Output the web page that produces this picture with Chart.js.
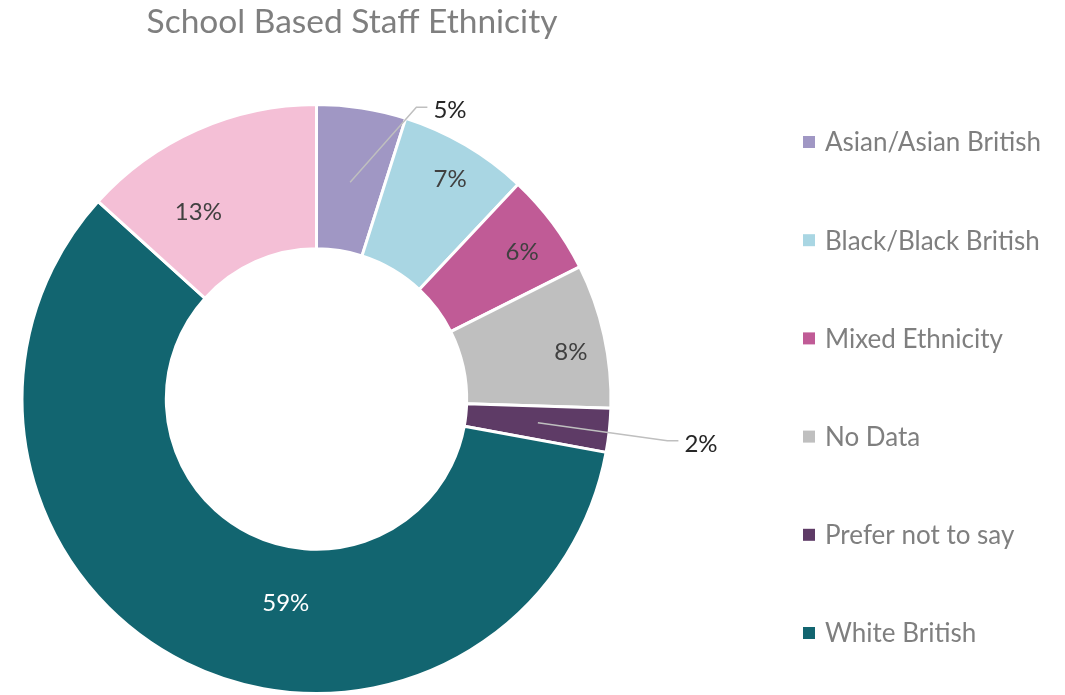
<!DOCTYPE html>
<html>
<head>
<meta charset="utf-8">
<title>School Based Staff Ethnicity</title>
<script src="https://cdn.jsdelivr.net/npm/chart.js@4.4.1/dist/chart.umd.min.js"></script>
<style>
  html, body { margin: 0; padding: 0; background: #ffffff; }
  #wrap { width: 1065px; height: 695px; position: relative; }
</style>
</head>
<body>
<div id="wrap"><canvas id="chart" width="1065" height="695"></canvas></div>
<script>
// Staff ethnicity breakdown (percent of school based staff)
const categories = [
  'Asian/Asian British',
  'Black/Black British',
  'Mixed Ethnicity',
  'No Data',
  'Prefer not to say',
  'White British',
  'White Other'
];
const shares = [4.9, 7.1, 5.6, 7.9, 2.4, 58.8, 13.3];
const sliceColours = ['#A097C4', '#A9D6E3', '#C05B96', '#BFBFBF', '#5E3B66', '#126570', '#F4BFD6'];
// Entries listed in the legend (the last category falls below the visible legend area)
const legendCount = 6;

const FONT = 'Lato, "Open Sans", sans-serif';

// Per-slice label placement: radius as a fraction of the outer radius,
// angle shift in degrees from the slice middle, optional leader elbow (polar)
const labelPlacement = [
  { leader: { r: 1.047, deg: 18.9 }, anchorR: 0.745 },
  { r: 0.873, shift: 0.9 },
  { r: 0.858, shift: 1.2 },
  { r: 0.878, shift: 2.0 },
  { leader: { r: 1.2, deg: 96.8 }, anchorR: 0.756 },
  { r: 0.70, shift: -17.7, colour: '#ffffff' },
  { r: 0.75, shift: -8.4 }
];

const titlePlugin = {
  id: 'plainTitle',
  afterDraw(chart) {
    const ctx = chart.ctx;
    ctx.save();
    ctx.font = '400 33.5px ' + FONT;
    ctx.fillStyle = '#7F7F7F';
    ctx.textAlign = 'center';
    ctx.textBaseline = 'alphabetic';
    ctx.fillText('School Based Staff Ethnicity', 352, 33);
    ctx.restore();
  }
};

const legendPlugin = {
  id: 'sideLegend',
  afterDraw(chart) {
    const ctx = chart.ctx;
    const ds = chart.data.datasets[0];
    ctx.save();
    ctx.font = '400 26px ' + FONT;
    ctx.textBaseline = 'middle';
    ctx.textAlign = 'left';
    for (let i = 0; i < legendCount; i++) {
      const y = 142 + i * 98.2;
      ctx.fillStyle = ds.backgroundColor[i];
      ctx.fillRect(803, y - 6, 12, 12);
      ctx.fillStyle = '#7F7F7F';
      ctx.fillText(chart.data.labels[i], 825, y + 1);
    }
    ctx.restore();
  }
};

const valueLabelPlugin = {
  id: 'valueLabels',
  afterDatasetsDraw(chart) {
    const ctx = chart.ctx;
    const meta = chart.getDatasetMeta(0);
    const values = chart.data.datasets[0].data;
    ctx.save();
    ctx.font = '400 24px ' + FONT;
    ctx.textBaseline = 'middle';
    meta.data.forEach((arc, i) => {
      const p = arc.getProps(['x', 'y', 'startAngle', 'endAngle', 'outerRadius'], true);
      const place = labelPlacement[i];
      const mid = (p.startAngle + p.endAngle) / 2;
      const text = Math.round(values[i]) + '%';
      if (place.leader) {
        const ax = p.x + Math.cos(mid) * p.outerRadius * place.anchorR;
        const ay = p.y + Math.sin(mid) * p.outerRadius * place.anchorR;
        const ea = (place.leader.deg - 90) * Math.PI / 180;
        const ex = p.x + Math.cos(ea) * p.outerRadius * place.leader.r;
        const ey = p.y + Math.sin(ea) * p.outerRadius * place.leader.r;
        ctx.strokeStyle = '#BFBFBF';
        ctx.lineWidth = 1.5;
        ctx.beginPath();
        ctx.moveTo(ax, ay);
        ctx.lineTo(ex, ey);
        ctx.lineTo(ex + 11, ey);
        ctx.stroke();
        ctx.fillStyle = '#262626';
        ctx.textAlign = 'left';
        ctx.fillText(text, ex + 17, ey + 3);
      } else {
        const a = mid + place.shift * Math.PI / 180;
        const x = p.x + Math.cos(a) * p.outerRadius * place.r;
        const y = p.y + Math.sin(a) * p.outerRadius * place.r;
        ctx.fillStyle = place.colour || '#404040';
        ctx.textAlign = 'center';
        ctx.fillText(text, x, y);
      }
    });
    ctx.restore();
  }
};

new Chart(document.getElementById('chart'), {
  type: 'doughnut',
  data: {
    labels: categories,
    datasets: [{
      data: shares,
      backgroundColor: sliceColours,
      borderColor: '#ffffff',
      borderWidth: 3,
      hoverOffset: 0
    }]
  },
  options: {
    responsive: false,
    animation: false,
    devicePixelRatio: 1,
    cutout: '51%',
    layout: { padding: { top: 103, left: 20, right: 452, bottom: 0 } },
    plugins: {
      legend: { display: false },
      title: { display: false },
      tooltip: { enabled: false }
    }
  },
  plugins: [titlePlugin, legendPlugin, valueLabelPlugin]
});
</script>
</body>
</html>
